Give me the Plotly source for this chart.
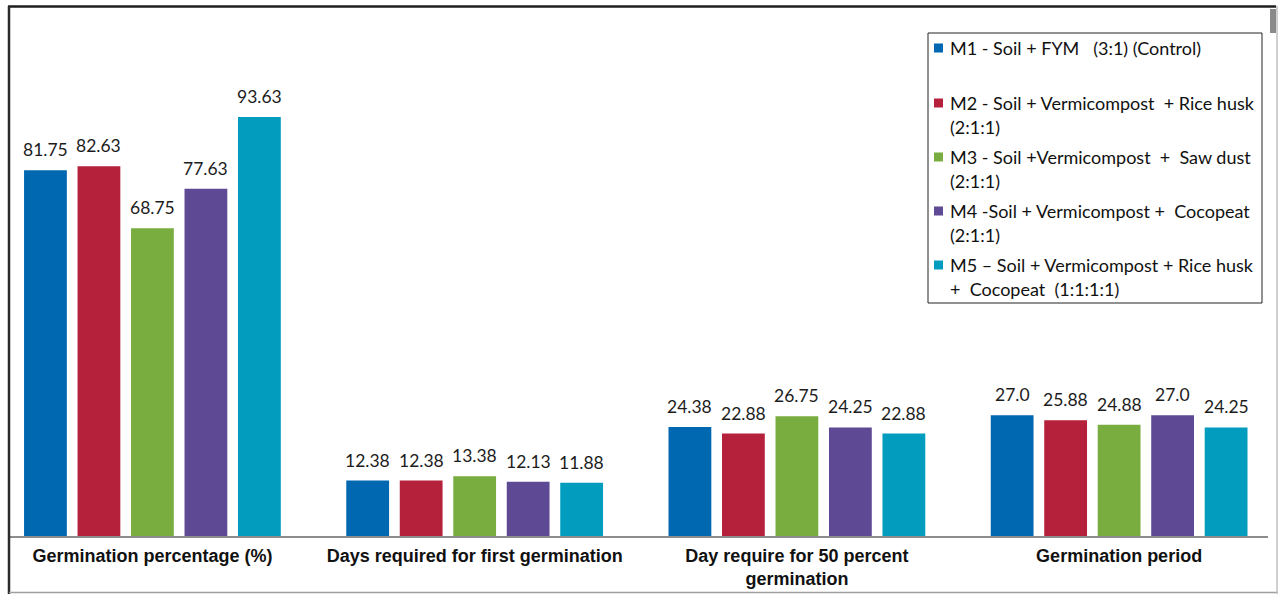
import plotly.graph_objects as go

# ---- data ----
categories = [
    "Germination percentage (%)",
    "Days required for first germination",
    "Day require for 50 percent<br>germination",
    "Germination period",
]
series_names = ["M1", "M2", "M3", "M4", "M5"]
m1 = [81.75, 12.38, 24.38, 27.0]
m2 = [82.63, 12.38, 22.88, 25.88]
m3 = [68.75, 13.38, 26.75, 24.88]
m4 = [77.63, 12.13, 24.25, 27.0]
m5 = [93.63, 11.88, 22.88, 24.25]
value_labels = [
    ["81.75", "12.38", "24.38", "27.0"],
    ["82.63", "12.38", "22.88", "25.88"],
    ["68.75", "13.38", "26.75", "24.88"],
    ["77.63", "12.13", "24.25", "27.0"],
    ["93.63", "11.88", "22.88", "24.25"],
]
legend_lines = [
    ["M1 - Soil + FYM\u00a0\u00a0\u00a0(3:1) (Control)", ""],
    ["M2 - Soil + Vermicompost\u00a0\u00a0+ Rice husk", "(2:1:1)"],
    ["M3 - Soil +Vermicompost\u00a0\u00a0+\u00a0\u00a0Saw dust", "(2:1:1)"],
    ["M4 -Soil + Vermicompost +\u00a0\u00a0Cocopeat", "(2:1:1)"],
    ["M5 \u2013 Soil + Vermicompost + Rice husk", "+\u00a0\u00a0Cocopeat\u00a0\u00a0(1:1:1:1)"],
]
colors = ["#0067B1", "#B5213A", "#7AAD40", "#5E4A94", "#019CBE"]

series_values = [m1, m2, m3, m4, m5]

# ---- canvas geometry (pixels) ----
W, H = 1278, 594
ML, MR, MT, MB = 10, 10, 8, 58
PW, PH = W - ML - MR, H - MT - MB


def px_x(x):
    return (x - ML) / PW


def px_y(y):
    return (H - MB - y) / PH


BARGAP = 0.17
BARGROUPGAP = 0.2
slot = (1 - BARGAP) / len(series_values)

fig = go.Figure()
idx = list(range(len(categories)))
for name, vals, col in zip(series_names, series_values, colors):
    fig.add_trace(go.Bar(
        x=idx, y=vals, name=name, marker=dict(color=col, line=dict(width=0)),
        showlegend=False, hoverinfo="skip",
    ))

annotations = []
# value labels above each bar
for si, (vals, labs) in enumerate(zip(series_values, value_labels)):
    for gi, (v, lab) in enumerate(zip(vals, labs)):
        annotations.append(dict(
            x=gi + (si - 2) * slot, y=v, xref="x", yref="y",
            text=lab, showarrow=False, yanchor="bottom", yshift=8,
            font=dict(family="Lato", size=17.5, color="#1c1c1c"),
        ))

# legend: framed box with coloured squares and wrapped text
shapes = [dict(type="rect", xref="paper", yref="paper",
               x0=px_x(928), x1=px_x(1262), y0=px_y(303), y1=px_y(33),
               line=dict(color="#222222", width=1), fillcolor="white", layer="above")]
first_line_y = [48, 103, 157, 211, 265]
for col, lines, ly in zip(colors, legend_lines, first_line_y):
    shapes.append(dict(type="rect", xref="paper", yref="paper",
                       x0=px_x(934), x1=px_x(943), y0=px_y(ly + 4.5), y1=px_y(ly - 4.5),
                       line=dict(width=0), fillcolor=col, layer="above"))
    for k, txt in enumerate(lines):
        if not txt:
            continue
        annotations.append(dict(
            x=px_x(948), y=px_y(ly + 24 * k), xref="paper", yref="paper",
            xanchor="left", yanchor="middle", text=txt, showarrow=False,
            font=dict(family="Lato", size=18, color="#111111"),
        ))

# outer frame and scroll marker
shapes += [
    dict(type="line", xref="paper", yref="paper", x0=px_x(8), x1=px_x(1276),
         y0=px_y(6.5), y1=px_y(6.5), line=dict(color="#1e1e1e", width=2.5)),
    dict(type="line", xref="paper", yref="paper", x0=px_x(9), x1=px_x(9),
         y0=px_y(6), y1=px_y(594), line=dict(color="#2a2a2a", width=2.5)),
    dict(type="line", xref="paper", yref="paper", x0=px_x(9), x1=px_x(1278),
         y0=px_y(592.5), y1=px_y(592.5), line=dict(color="#a0a0a0", width=1.5)),
    dict(type="line", xref="paper", yref="paper", x0=px_x(1277), x1=px_x(1277),
         y0=px_y(6), y1=px_y(594), line=dict(color="#c0c0c0", width=1.5)),
    dict(type="rect", xref="paper", yref="paper", x0=px_x(1270), x1=px_x(1276),
         y0=px_y(33), y1=px_y(9), line=dict(width=0), fillcolor="#8a8a8a"),
]

fig.update_layout(
    width=W, height=H,
    margin=dict(l=ML, r=MR, t=MT, b=MB, autoexpand=False),
    paper_bgcolor="white", plot_bgcolor="white",
    barmode="group", bargap=BARGAP, bargroupgap=BARGROUPGAP,
    showlegend=False,
    annotations=annotations, shapes=shapes,
    xaxis=dict(
        tickmode="array", tickvals=idx, ticktext=categories,
        range=[-0.442, 3.462], showgrid=False, zeroline=False,
        showline=True, linecolor="#8c8c8c", linewidth=2, ticks="",
        ticklabelstandoff=2, automargin=False,
        tickfont=dict(family="Liberation Sans", size=18, color="#111111"),
    ),
    yaxis=dict(range=[0, 118], showgrid=False, zeroline=False, automargin=False,
               showticklabels=False, showline=False, fixedrange=True),
)
fig.update_xaxes(tickfont_weight="bold")

fig.write_html("out.html")
